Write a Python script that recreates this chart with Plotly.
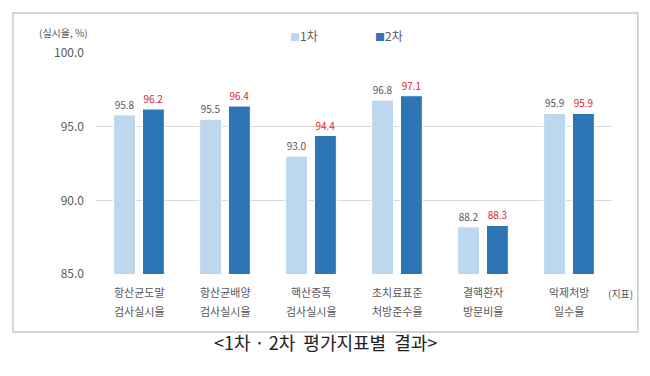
import plotly.graph_objects as go

categories = ["항산균도말\n검사실시율", "항산균배양\n검사실시율", "핵산증폭\n검사실시율",
              "초치료표준\n처방준수율", "결핵환자\n방문비율", "악제처방\n일수율"]
series_names = ["1차", "2차"]
round1 = [95.8, 95.5, 93.0, 96.8, 88.2, 95.9]
round2 = [96.2, 96.4, 94.4, 97.1, 88.3, 95.9]
y_ticks = [85.0, 90.0, 95.0, 100.0]

FONT = "Noto Sans CJK KR, Malgun Gothic, sans-serif"
GRAY = "#595959"
LIGHT = "#BDD7EE"
DARK = "#2E75B6"
RED = "#E0262B"
colors = [LIGHT, DARK]

fig = go.Figure()
fig.add_trace(go.Bar(
    x=list(range(len(categories))), y=round1, name=series_names[0],
    marker=dict(color=LIGHT, line=dict(color="white", width=1)),
    text=[f"{v:.1f}" for v in round1], textposition="outside", cliponaxis=False,
    textfont=dict(color=GRAY, size=10, family=FONT), showlegend=False,
))
fig.add_trace(go.Bar(
    x=list(range(len(categories))), y=round2, name=series_names[1],
    marker=dict(color=DARK, line=dict(color="white", width=1)),
    text=[f"{v:.1f}" for v in round2], textposition="outside", cliponaxis=False,
    textfont=dict(color=RED, size=10, family=FONT), showlegend=False,
))

annotations = []
for i, cat in enumerate(categories):
    for j, line in enumerate(cat.split("\n")):
        annotations.append(dict(
            x=i, xref="x", y=-0.08 - j * 0.086, yref="paper", text=line,
            showarrow=False, xanchor="center", yanchor="middle",
            font=dict(size=11, color=GRAY, family=FONT),
        ))
# legend entries
for k, (nm, col) in enumerate(zip(series_names, colors)):
    annotations.append(dict(
        x=0.372 + k * 0.165, xref="paper", y=1.081, yref="paper",
        text=f"<span style='color:{col};font-size:10px'>■</span>{nm}",
        showarrow=False, xanchor="left", yanchor="middle",
        font=dict(size=12, color=GRAY, family=FONT),
    ))
annotations.append(dict(x=-0.063, xref="paper", y=1.095, yref="paper", text="(실시율, %)",
                        showarrow=False, xanchor="center", yanchor="middle",
                        font=dict(size=10, color=GRAY, family=FONT)))
annotations.append(dict(x=1.016, xref="paper", y=-0.09, yref="paper", text="(지표)",
                        showarrow=False, xanchor="center", yanchor="middle",
                        font=dict(size=10, color=GRAY, family=FONT)))
annotations.append(dict(x=0.444, xref="paper", y=-0.308, yref="paper",
                        text="&lt;1차 · 2차  평가지표별  결과&gt;",
                        showarrow=False, xanchor="center", yanchor="middle",
                        font=dict(size=18, color="#222222", family=FONT)))

# page body has an 8px margin; size the figure so the plot area lands where the reference has it
fig.update_layout(
    width=642, height=368,
    margin=dict(l=88, r=38, t=45, b=102),
    paper_bgcolor="white", plot_bgcolor="white",
    barmode="group", bargap=0.33, bargroupgap=0.24,
    font=dict(family=FONT, color=GRAY),
    showlegend=False,
    xaxis=dict(range=[-0.5, len(categories) - 0.5], showticklabels=False,
               showgrid=False, zeroline=False, showline=False, fixedrange=True),
    yaxis=dict(range=[85, 100], tickvals=y_ticks, ticktext=[f"{v:.1f}" for v in y_ticks],
               showgrid=True, gridcolor="#D9D9D9", gridwidth=1, zeroline=False,
               showline=False, ticks="", ticklen=0, ticklabelstandoff=11,
               tickfont=dict(size=12, color=GRAY, family=FONT)),
    annotations=annotations,
    shapes=[dict(type="rect", xref="paper", yref="paper", x0=-0.161, x1=1.050,
                 y0=-0.262, y1=1.181, line=dict(color="#C8C8C8", width=1.5),
                 fillcolor="rgba(0,0,0,0)", layer="above")],
)

fig.write_html("out.html")
